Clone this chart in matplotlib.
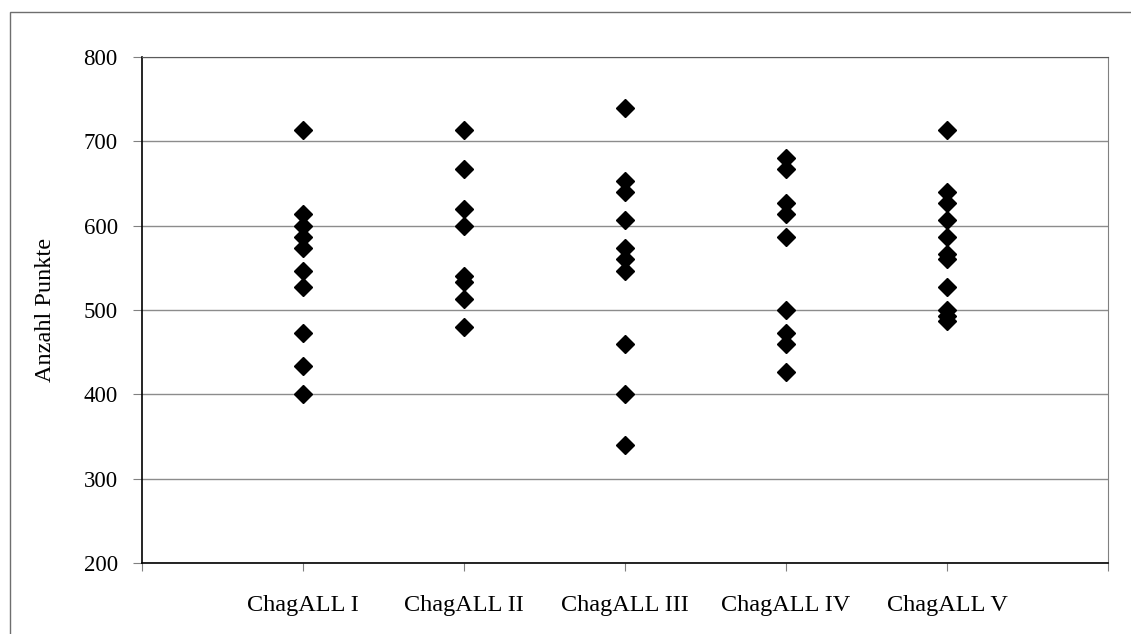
import matplotlib
matplotlib.use("Agg")
import matplotlib.pyplot as plt
from matplotlib.patches import Rectangle

# points per group
groups = ["ChagALL I", "ChagALL II", "ChagALL III", "ChagALL IV", "ChagALL V"]
chagall_1 = [713.3, 613.3, 600, 586.7, 573.3, 546.7, 526.7, 473.3, 433.3, 400]
chagall_2 = [713.3, 666.7, 620, 600, 540, 533.3, 513.3, 480]
chagall_3 = [740, 653.3, 640, 606.7, 573.3, 560, 546.7, 460, 400, 340]
chagall_4 = [680, 666.7, 626.7, 613.3, 586.7, 500, 473.3, 460, 426.7]
chagall_5 = [713.3, 640, 626.7, 606.7, 586.7, 566.7, 560, 526.7, 500, 493.3, 486.7]
series = [chagall_1, chagall_2, chagall_3, chagall_4, chagall_5]
y_ticks = [200, 300, 400, 500, 600, 700, 800]

plt.rcParams["font.family"] = ["Liberation Serif", "DejaVu Serif"]
W, H = 1131, 634
fig = plt.figure(figsize=(W / 100, H / 100), dpi=100)
ax = fig.add_axes([142 / W, 1 - 563 / H, 966 / W, 506 / H])

# outer chart border (open to the right and bottom, like the crop)
fig.patches.append(Rectangle((10 / W, -0.1), 1.2, 1.1 - 12 / H, transform=fig.transFigure,
                             fill=False, edgecolor="#6e6e6e", lw=1.0))

for i, vals in enumerate(series, start=1):
    ax.plot([i] * len(vals), vals, linestyle="none", marker="D", markersize=9,
            color="black", zorder=3, clip_on=False)

ax.set_xlim(0, 6)
ax.set_ylim(200, 800)
ax.set_yticks(y_ticks)
ax.set_xticks(range(0, 7))
ax.set_xticklabels([""] + groups + [""])
ax.yaxis.grid(True, color="#8c8c8c", lw=1.0)
ax.set_axisbelow(True)

for side in ("left", "bottom"):
    ax.spines[side].set_color("black")
    ax.spines[side].set_linewidth(1.2)
ax.spines["top"].set_color("#5a5a5a")
ax.spines["right"].set_color("#808080")
ax.tick_params(axis="y", length=6.5, pad=11, color="#808080", labelsize=16.5)
ax.tick_params(axis="x", length=6, pad=17, color="#808080", labelsize=17.5)

ax.set_ylabel("Anzahl Punkte", fontsize=17.5)
ax.yaxis.label.set_va("center")
ax.yaxis.set_label_coords(-0.1, 0.5)

fig.savefig("out.png", dpi=100)
